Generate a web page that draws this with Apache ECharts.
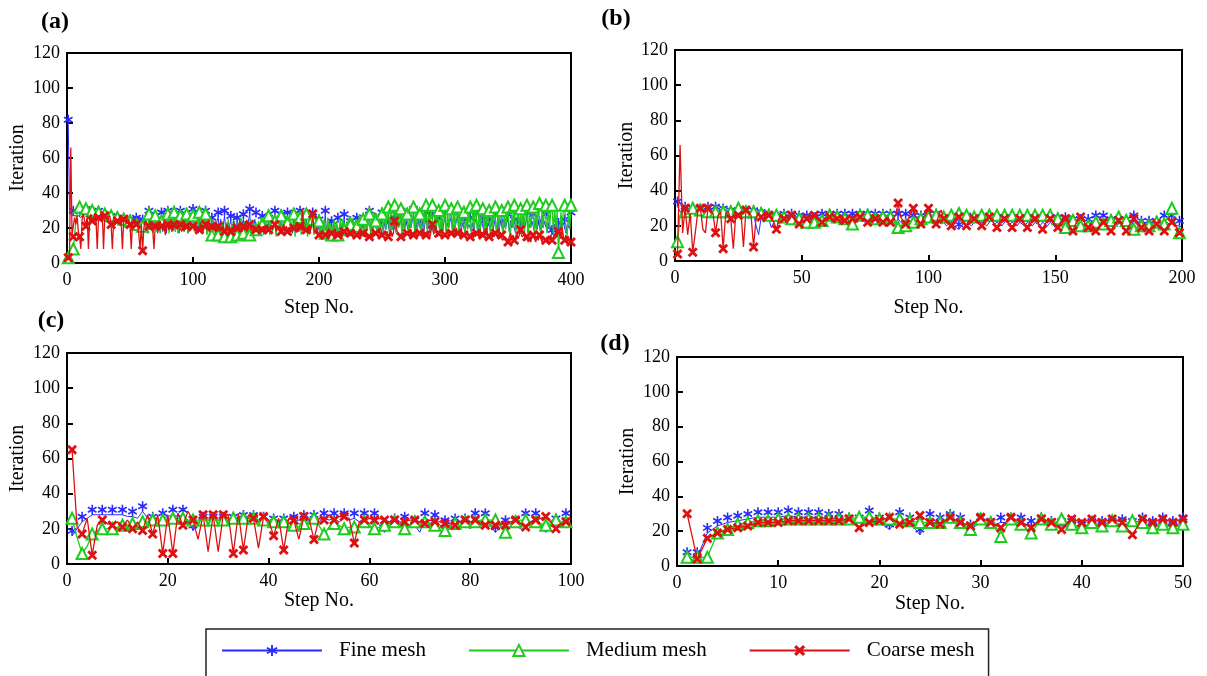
<!DOCTYPE html>
<html>
<head>
<meta charset="utf-8">
<script src="https://cdn.jsdelivr.net/npm/echarts@6/dist/echarts.min.js"></script>
<style>
  html, body { margin: 0; padding: 0; background: #fff; }
  #chart { width: 1207px; height: 676px; }
</style>
</head>
<body>
<div id="chart"></div>
<script>
// Iteration count per time step for three mesh densities, four step sizes.
// Values are listed per step, starting at step 1.

const seriesNames = ['Fine mesh', 'Medium mesh', 'Coarse mesh'];
const panelLabels = ['(a)', '(b)', '(c)', '(d)'];
const panelSteps = [400, 200, 100, 50];
const stepTickIntervals = [100, 50, 20, 10];
const iterationTicks = [0, 20, 40, 60, 80, 100, 120];

// ---- (a) 400 steps ----
const fineA = [
  79,30,28,27,27,26,27,28,27,27,26,27,28,27,28,27,26,27,26,27,
  26,27,25,26,27,25,26,25,24,24,25,24,23,24,24,23,24,22,23,23,
  22,24,23,22,23,22,24,21,23,22,21,23,20,22,23,21,22,19,23,22,
  18,24,20,17,27, 19,25,18,22,24, 20,17,24,19,26, 18,23,20,17,27,
  19,24,18,21,25, 18,23,20,17,27, 19,25,18,22,24, 17,23,19,21,28,
  19,24,20,17,25, 18,23,19,22,27, 17,24,20,18,23, 19,22,17,24,26,
  18,25,17,21,27, 19,23,17,22,24, 18,24,20,17,23, 19,25,18,22,25,
  17,23,20,24,28, 18,22,19,25,26,
  17,23,19,22,24, 18,25,17,21,23, 19,24,18,22,27, 17,23,20,18,25,
  19,22,17,24,26, 18,23,20,17,25, 19,22,18,24,27, 17,23,19,21,24,
  18,22,17,25,26, 19,23,18,21,22,
  17,24,19,22,27, 18,23,17,25,21, 19,24,17,22,23, 18,24,19,23,25,
  17,23,20,22,21, 18,24,17,22,23, 19,25,17,21,20, 18,23,19,24,27,
  17,22,19,24,23, 18,23,17,25,26,
  18,23,19,24,22, 17,25,19,22,23, 18,24,20,22,27, 17,23,19,24,23,
  18,22,20,24,28, 17,23,19,24,21, 18,24,17,22,26, 19,23,18,24,25,
  17,22,19,25,23, 18,24,17,23,27,
  18,23,20,24,26, 17,22,20,24,27, 18,24,19,23,22, 17,24,20,22,23,
  18,23,19,24,26, 17,22,20,24,23, 18,25,17,23,22, 19,24,18,22,26,
  17,23,19,24,21, 18,22,20,23,25,
  18,24,20,23,22, 17,23,19,22,21, 18,24,19,23,26, 17,22,20,24,25,
  18,24,19,23,21, 17,22,20,24,25, 18,23,19,21,16, 17,22,15,23,20,
  18,24,20,23,22, 17,22,20,24,26
];
const mediumA = [
  3,4,5,6,8,15,24,29,31,32,30,31,29,30,31,29,30,28,29,30,
  28,29,27,28,29,27,28,26,27,28,26,27,25,26,27,25,26,24,25,26,
  24,25,23,24,25,23,24,22,23,24,22,23,21,24,22,21,23,20,22,21,
  18,26,20,17,28, 19,25,17,22,27, 18,26,20,17,24, 19,27,18,21,28,
  17,25,19,22,29, 18,24,17,21,27, 19,26,18,22,28, 17,25,19,23,27,
  18,24,17,22,29, 19,26,18,21,28, 16,24,17,22,16, 25,18,23,17,16,
  22,17,24,18,15, 23,17,25,16,15, 22,17,24,18,16, 23,17,26,16,17,
  24,16,22,18,16, 25,17,23,16,19,
  17,24,18,26,22, 16,23,18,25,27, 16,25,18,22,24, 15,26,19,24,27,
  16,25,18,27,23, 16,24,19,26,28, 15,25,18,23,26, 16,24,19,27,28,
  15,26,18,23,25, 16,24,19,26,24,
  15,24,16,25,17, 15,26,18,23,16, 15,25,17,24,16, 18,26,17,25,19,
  16,24,18,27,22, 15,26,19,25,21, 16,28,18,24,25, 16,27,19,25,28,
  16,27,19,29,24, 16,28,20,30,28,
  17,31,19,28,32, 16,32,19,29,33, 17,33,20,30,31, 16,29,19,31,28,
  16,28,20,30,32, 17,31,19,29,28, 16,32,20,29,33, 17,30,19,32,33,
  16,29,20,31,30, 16,28,19,32,33,
  17,30,20,28,31, 16,31,19,29,32, 16,28,20,30,29, 16,29,19,31,32,
  17,32,20,33,33, 16,30,19,28,31, 16,31,20,29,30, 17,30,19,32,32,
  16,29,20,31,30, 16,30,19,28,32,
  18,16,29,20,33, 17,16,30,19,31, 18,32,17,33,33, 16,30,20,29,32,
  16,31,19,33,34, 16,30,20,33,33, 17,34,19,31,33, 16,33,19,30,6,
  17,29,20,31,33, 18,16,31,19,33
];
const coarseA = [
  3,5,66,16,15,26,22,27,18,15,8,25,28,24,21,27,8,25,28,24,
  23,27,25,8,26,27,24,28,8,27,27,26,25,27,22,8,24,26,25,24,
  24,26,23,8,25,24,26,23,25,22,8,24,23,25,22,24,23,8,22,7,
  20,24,22,23,21,24,22,20,8,21,23,20,22,24,21,19,23,16,20,22,
  19,21,23,18,22,20,19,23,21,22,18,20,22,19,21,23,18,20,19,21,
  22,18,20,21,19,23,20,18,21,22,19,21,18,20,21,19,22,20,18,21,
  18,20,19,21,18,20,22,19,21,18,20,19,21,18,20,22,19,20,18,21,
  19,21,18,20,22,19,20,18,21,19,20,22,18,20,19,21,18,20,22,19,
  18,21,19,20,22,18,20,19,21,18,20,22,19,21,18,20,19,21,18,20,
  19,22,20,18,21,19,31,18,20,19,17,20,18,21,28,19,17,20,18,16,
  17,16,18,15,16,18,17,15,16,17,18,16,15,17,16,18,17,15,16,18,
  17,15,16,18,17,16,15,17,18,16,17,15,18,16,17,15,19,16,17,15,
  17,18,16,15,17,16,18,17,20,16,15,17,16,18,15,17,19,15,17,24,
  22,18,17,16,15,17,18,16,15,17,16,18,15,17,16,18,17,16,15,17,
  16,18,15,17,16,18,17,15,16,22,17,16,18,15,17,16,15,17,18,16,
  17,15,16,18,17,16,18,15,20,17,16,18,15,17,16,15,17,18,16,15,
  17,16,18,15,17,16,18,15,17,16,18,17,20,16,15,17,16,18,15,17,
  16,14,17,15,16,13,15,16,14,12,15,17,14,16,13,15,17,14,16,19,
  15,14,16,13,15,12,14,12,15,16,14,12,15,13,16,14,12,15,14,13,
  15,12,14,16,13,15,14,17,15,18,16,14,20,15,13,16,12,14,15,12
];

// ---- (b) 200 steps ----
const fineB = [
  31,28,27,28,27,28,27,28,27,27,28,27, 28,27,28,28,27,26,27,26,25,26,25,26,
  25,24,25,26,24,25,26,20,15,25,22,24, 24,19,22,23,21,23,24,22,23,24,23,22,
  23,24,22,23,24,23,22,24,23,24,22,24, 24,23,22,24,23,22,24,23,22,24,23,22,
  24,23,22,24,22,23,24,22,23,24,22,23, 24,23,22,24,22,21,24,23,22,23,22,21,
  23,22,21,24,22,21,24,23,21,22,20,21, 22,20,19,18,20,22,23,21,20,22,23,21,
  22,21,20,22,23,21,22,21,20,22,23,21, 22,21,20,22,21,20,22,21,20,22,21,20,
  22,21,20,22,21,19,22,21,19,22,20,19, 21,20,19,21,20,19,21,22,23,23,22,21,
  23,21,20,21,22,20,21,22,20,21,22,20, 23,21,20,20,21,19,20,21,19,20,21,19,
  23,22,21,23,21,20,20,19
];
const mediumB = [
  11,26,28,28,29,30,30,29,28,29,28,29, 28,27,28,28,27,28,28,27,28,28,29,29,
  30,29,28,28,27,28,28,27,28,27,26,27, 26,27,26,26,25,26,25,24,25,24,23,24,
  24,23,22,22,23,22,22,23,24,23,24,25, 26,25,24,25,24,25,24,23,22,21,24,25,
  26,25,26,26,25,24,24,25,24,25,26,25, 25,23,21,19,20,21,20,21,22,22,23,24,
  24,25,24,25,26,25,26,25,24,25,26,25, 26,27,26,27,26,25,26,25,26,25,26,25,
  26,25,26,26,25,26,26,25,26,26,25,26, 26,25,26,26,25,26,26,25,26,26,25,26,
  26,25,26,26,25,24,24,22,20,19,22,26, 23,21,22,20,21,20,20,22,21,22,20,21,
  21,22,23,23,24,24,25,23,22,23,20,19, 18,19,20,20,21,20,20,21,21,22,21,21,
  21,24,27,30,22,18,16,17
];
const coarseB = [
  4,66,16,30,15,27,5,16,28,30,18,16, 30,28,27,16,26,28,7,27,28,24,7,27,
  26,28,8,29,27,26,8,25,27,25,24,27, 26,24,22,18,24,26,24,25,23,26,24,22,
  21,24,25,24,23,25,26,24,23,22,24,25, 25,23,24,24,25,23,23,24,25,24,23,24,
  25,24,23,22,24,25,24,23,24,22,24,25, 22,24,26,33,25,23,21,24,27,30,25,23,
  21,25,27,30,25,22,21,26,29,24,23,22, 20,23,25,25,24,22,20,23,25,24,23,22,
  20,23,24,25,23,21,19,22,24,24,23,21, 19,22,24,24,23,21,19,22,24,24,22,20,
  18,21,23,24,22,20,19,22,24,24,22,19, 17,21,23,25,23,21,19,18,20,17,19,21,
  22,20,19,17,20,22,23,21,19,17,20,22, 24,22,20,19,18,19,17,19,20,21,20,19,
  17,19,21,22,21,19,16,17
];

// ---- (c) 100 steps ----
const fineC = [
  16,20,24,26,28,28,28,28,28,28, 28,27,27,26,30,26,24,23,26,27,
  28,27,28,25,19,23,24,25,24,25, 24,25,24,25,25,24,25,25,24,24,
  23,24,23,23,24,25,25,25,25,24, 26,25,26,24,26,25,26,24,26,23,
  26,22,18,21,23,23,24,22,22,18, 26,23,25,22,22,22,23,24,23,20,
  26,24,26,22,18,21,22,23,22,20, 26,24,26,22,18,21,23,22,26,23
];
const mediumC = [
  26,15,6,10,17,19,20,20,20,21, 22,22,23,23,24,24,25,25,25,25,
  26,26,26,25,25,25,25,25,25,25, 25,26,26,26,26,26,26,25,25,25,
  24,24,24,23,22,23,23,24,26,22, 17,21,23,22,20,21,21,22,24,22,
  20,21,22,23,24,22,20,22,24,24, 24,23,22,21,19,21,23,24,24,24,
  24,25,25,25,25,22,18,21,24,25, 25,24,24,23,22,24,25,24,24,23
];
const coarseC = [
  65,21,17,26,5,22,25,23,22,24, 21,25,20,24,19,28,17,28,6,28,
  6,29,22,30,25,14,28,7,28,7, 28,28,6,29,8,28,26,9,27,25,
  16,26,8,26,25,14,27,26,14,26, 25,28,25,27,27,26,12,24,25,26,
  25,26,25,24,25,24,24,25,25,24, 23,25,24,24,23,23,22,24,25,24,
  25,23,22,24,22,23,22,24,25,23, 21,24,25,26,27,24,20,23,24,23
];

// ---- (d) 50 steps ----
const fineD = [
  5,5,19,23,25,26,27,28,28,28, 29,28,28,28,27,27,25,25,29,25,
  21,28,25,18,27,25,27,25,21,25, 23,25,25,25,23,25,23,23,23,21,
  23,23,23,24,23,25,23,25,23,25
];
const mediumD = [
  5,5,5,19,21,24,25,26,26,27, 27,27,27,27,27,27,27,28,28,27,
  27,27,26,25,25,25,28,25,21,27, 25,17,27,24,19,27,24,27,24,22,
  25,23,26,23,26,25,22,24,22,24
];
const coarseD = [
  30,4,16,19,21,22,23,25,25,25, 26,26,26,26,26,26,27,22,25,26,
  28,24,25,29,25,24,28,25,23,28, 25,22,28,25,22,27,25,21,27,25,
  27,25,27,25,18,27,25,27,25,27
];

const panelData = [
  [fineA, mediumA, coarseA],
  [fineB, mediumB, coarseB],
  [fineC, mediumC, coarseC],
  [fineD, mediumD, coarseD]
];

// which steps carry a marker in each panel
const markerRules = [
  s => s === 1 || s % 5 === 0,
  s => (s - 1) % 3 === 0,
  s => s % 2 === 1,
  s => true
];

const FONT = '"Liberation Serif", "Times New Roman", serif';

const ASTERISK = 'path://M4.2,0L4.2,10L5.8,10L5.8,0Z M8.9,8.2L9.7,6.8L1.1,1.8L0.3,3.2Z M9.7,3.2L8.9,1.8L0.3,6.8L1.1,8.2Z';
const CROSS = 'path://M0,2L2,0L10,8L8,10Z M8,0L10,2L2,10L0,8Z';

const styles = [
  { color: '#2a2aff', symbol: ASTERISK, symbolSize: 10, symbolOffset: [0, -5], lineWidth: 1, borderWidth: 0 },
  { color: '#1fcc1f', symbol: 'emptyTriangle', symbolSize: 11, symbolOffset: [0, 0], lineWidth: 1.3, borderWidth: 2 },
  { color: '#dd1111', symbol: CROSS, symbolSize: 10, symbolOffset: [0, 0], lineWidth: 1.3, borderWidth: 0 }
];

// plot rectangles
const grids = [
  { left: 67, top: 53, width: 504, height: 210 },
  { left: 675, top: 50, width: 507, height: 211 },
  { left: 67, top: 353, width: 504, height: 211 },
  { left: 677, top: 357, width: 506, height: 209 }
];
const xNameGaps = [35, 37, 26, 28];
const yNameGaps = [39, 38, 39, 39];

function toItems(values, rule) {
  return values.map((v, i) => {
    const step = i + 1;
    return rule(step) ? { value: [step, v] } : { value: [step, v], symbol: 'none' };
  });
}

const series = [];
panelData.forEach((trio, p) => {
  trio.forEach((values, k) => {
    const st = styles[k];
    series.push({
      type: 'line',
      name: seriesNames[k],
      xAxisIndex: p,
      yAxisIndex: p,
      data: toItems(values, markerRules[p]),
      symbol: st.symbol,
      symbolSize: st.symbolSize,
      symbolOffset: st.symbolOffset,
      showSymbol: true,
      showAllSymbol: true,
      symbolKeepAspect: true,
      lineStyle: { color: st.color, width: st.lineWidth },
      itemStyle: { color: st.color, borderColor: st.color, borderWidth: st.borderWidth },
      emphasis: { disabled: true },
      animation: false,
      z: 2 + k
    });
  });
});

const axisText = { fontFamily: FONT, fontSize: 18, color: '#000' };

const option = {
  animation: false,
  backgroundColor: '#fff',
  grid: grids.map(g => Object.assign({ show: true, borderColor: '#000', borderWidth: 2, backgroundColor: 'transparent' }, g)),
  xAxis: panelSteps.map((max, p) => ({
    gridIndex: p,
    type: 'value',
    min: 0,
    max: max,
    interval: stepTickIntervals[p],
    name: 'Step No.',
    nameLocation: 'middle',
    nameGap: xNameGaps[p],
    nameTextStyle: { fontFamily: FONT, fontSize: 20, color: '#000' },
    axisLine: { onZero: false, lineStyle: { color: '#000', width: 2 } },
    axisTick: { inside: true, length: 6, lineStyle: { color: '#000', width: 2 } },
    axisLabel: Object.assign({ margin: 8 }, axisText),
    splitLine: { show: false }
  })),
  yAxis: panelSteps.map((_, p) => ({
    gridIndex: p,
    type: 'value',
    min: iterationTicks[0],
    max: iterationTicks[iterationTicks.length - 1],
    interval: iterationTicks[1] - iterationTicks[0],
    name: 'Iteration',
    nameLocation: 'middle',
    nameGap: yNameGaps[p],
    nameTextStyle: { fontFamily: FONT, fontSize: 20, color: '#000' },
    axisLine: { onZero: false, lineStyle: { color: '#000', width: 2 } },
    axisTick: { inside: true, length: 6, lineStyle: { color: '#000', width: 2 } },
    axisLabel: Object.assign({ margin: 7 }, axisText),
    splitLine: { show: false }
  })),
  legend: {
    data: seriesNames,
    left: 206,
    top: 629,
    orient: 'horizontal',
    itemWidth: 100,
    itemHeight: 14,
    itemGap: 42,
    padding: [11, 14, 30, 15],
    borderColor: '#222',
    borderWidth: 1.5,
    backgroundColor: '#fff',
    selectedMode: false,
    textStyle: { fontFamily: FONT, fontSize: 21, color: '#000', padding: [0, 0, 0, 12] }
  },
  graphic: [
    [55, 22], [616, 19], [51, 321], [615, 344]
  ].map((pos, p) => ({
    type: 'text',
    x: pos[0],
    y: pos[1],
    style: {
      text: panelLabels[p],
      font: 'bold 24px ' + FONT,
      fill: '#000',
      align: 'center',
      verticalAlign: 'middle'
    }
  })),
  series: series
};

const chart = echarts.init(document.getElementById('chart'), null, { renderer: 'canvas' });
chart.setOption(option);
</script>
</body>
</html>
